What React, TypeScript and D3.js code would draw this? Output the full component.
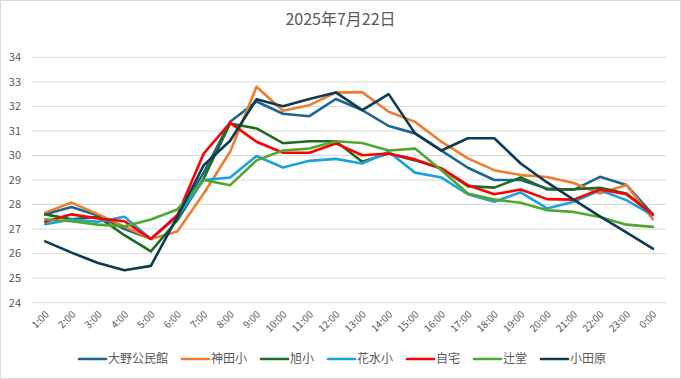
import React from "react";
import * as d3 from "d3";

const title = "2025年7月22日";
const hours = ["1:00","2:00","3:00","4:00","5:00","6:00","7:00","8:00","9:00","10:00","11:00","12:00","13:00","14:00","15:00","16:00","17:00","18:00","19:00","20:00","21:00","22:00","23:00","0:00"];
const yTicks = [24,25,26,27,28,29,30,31,32,33,34];

const seriesNames = ["大野公民館","神田小","旭小","花水小","自宅","辻堂","小田原"];
const seriesColors = ["#1f6590","#ed7d31","#1e6b22","#1ba1dc","#ff0000","#4ea72e","#0e3a52"];

const oono = [27.6,27.9,27.55,27.0,26.6,27.55,29.3,31.37,32.2,31.7,31.6,32.3,31.85,31.2,30.9,30.2,29.5,29.0,29.0,28.65,28.6,29.13,28.8,27.6];
const kanda = [27.67,28.08,27.6,27.1,26.6,26.9,28.45,30.15,32.8,31.82,32.05,32.56,32.58,31.78,31.37,30.56,29.88,29.4,29.2,29.12,28.88,28.45,28.8,27.4];
const asahi = [27.6,27.4,27.5,26.75,26.09,27.36,29.06,31.3,31.1,30.5,30.58,30.58,29.74,30.08,29.8,29.47,28.75,28.69,29.1,28.62,28.62,28.68,28.45,27.6];
const hanamizu = [27.2,27.39,27.3,27.5,26.6,27.5,29.0,29.1,29.98,29.51,29.78,29.86,29.67,30.15,29.3,29.1,28.42,28.11,28.5,27.84,28.11,28.58,28.18,27.56];
const jitaku = [27.3,27.6,27.43,27.32,26.6,27.56,30.08,31.33,30.56,30.11,30.11,30.49,30.01,30.08,29.84,29.47,28.79,28.42,28.61,28.22,28.2,28.61,28.42,27.6];
const tsujido = [27.39,27.32,27.18,27.11,27.39,27.8,29.0,28.79,29.8,30.2,30.28,30.58,30.51,30.2,30.28,29.4,28.45,28.2,28.07,27.77,27.7,27.49,27.18,27.09];
const odawara = [26.5,26.04,25.62,25.32,25.5,27.5,29.6,30.6,32.29,32.01,32.3,32.57,31.85,32.5,30.9,30.2,30.7,30.7,29.67,28.9,28.2,27.52,26.87,26.2];

const seriesValues = [oono, kanda, asahi, hanamizu, jitaku, tsujido, odawara];

const W = 681, H = 379;
const plot = { left: 32, right: 666, top: 57.3, bottom: 302.7 };

export default function App() {
  const x = d3.scaleBand<string>().domain(hours).range([plot.left, plot.right]);
  const y = d3.scaleLinear().domain([24, 34]).range([plot.bottom, plot.top]);
  const cx = (h: string) => (x(h) as number) + x.bandwidth() / 2;
  const line = d3.line<number>().x((_, i) => cx(hours[i])).y((v) => y(v));

  const font = "'Noto Sans CJK JP', 'Noto Sans', sans-serif";
  const textColor = "#595959";

  const legendFont = 12;
  const lineLen = 27;
  const gapText = 2;
  const itemGap = 14;
  const widths = seriesNames.map((n) => lineLen + gapText + n.length * legendFont);
  const total = widths.reduce((a, b) => a + b, 0) + itemGap * (seriesNames.length - 1);
  let lx = (W - total) / 2 + 2;
  const legendItems = seriesNames.map((n, i) => {
    const item = { name: n, x: lx, color: seriesColors[i] };
    lx += widths[i] + itemGap;
    return item;
  });
  const ly = 359;

  return (
    <svg width={W} height={H} style={{ position: "absolute", left: 0, top: 0, background: "#fff" }} fontFamily={font}>
      <rect x={0.5} y={0.5} width={W - 1} height={H - 1} fill="#fff" stroke="#d9d9d9" />
      <text x={W / 2} y={25} textAnchor="middle" fontSize={16} fill={textColor}>{title}</text>
      {yTicks.map((t) => (
        <g key={t}>
          <line x1={plot.left} x2={plot.right} y1={y(t)} y2={y(t)} stroke="#d9d9d9" strokeWidth={1} />
          <text x={21} y={y(t)} dy="0.35em" textAnchor="end" fontSize={11} fill={textColor}>{t}</text>
        </g>
      ))}
      {hours.map((h) => (
        <text key={h} transform={`translate(${cx(h) + 2},${plot.bottom + 10}) rotate(-45)`} textAnchor="end" fontSize={10} fill={textColor} dy="0.35em">{h}</text>
      ))}
      {seriesValues.map((vals, i) => (
        <path key={seriesNames[i]} d={line(vals) || ""} fill="none" stroke={seriesColors[i]} strokeWidth={2.6} strokeLinejoin="round" strokeLinecap="round" />
      ))}
      {legendItems.map((it) => (
        <g key={it.name}>
          <line x1={it.x} x2={it.x + lineLen} y1={ly} y2={ly} stroke={it.color} strokeWidth={2.6} strokeLinecap="round" />
          <text x={it.x + lineLen + gapText} y={ly} dy="0.35em" fontSize={legendFont} fill={textColor}>{it.name}</text>
        </g>
      ))}
    </svg>
  );
}
